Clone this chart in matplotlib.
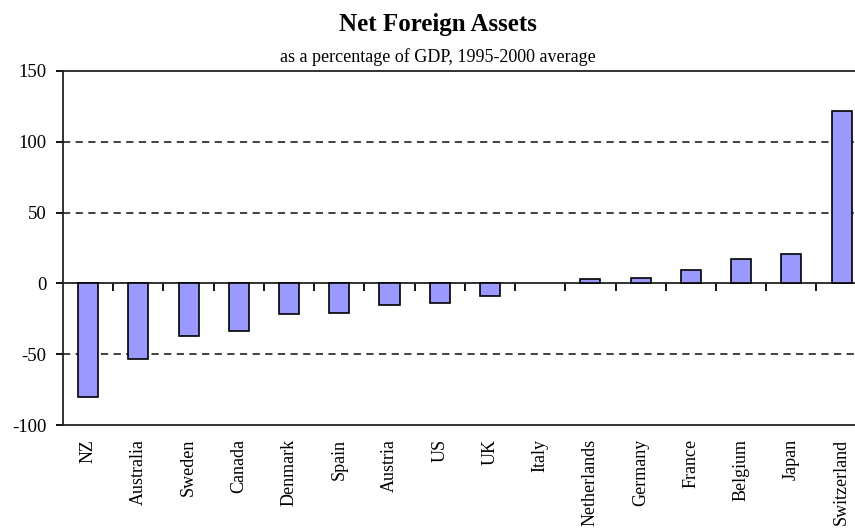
import numpy as np
from matplotlib import pyplot as plt

plt.rcParams["font.family"] = "Liberation Serif"

countries = ["NZ", "Australia", "Sweden", "Canada", "Denmark", "Spain", "Austria",
             "US", "UK", "Italy", "Netherlands", "Germany", "France", "Belgium",
             "Japan", "Switzerland"]
nfa = [-80.0, -53.5, -37.0, -33.5, -21.7, -20.8, -15.3, -14.0, -9.0, 0.0,
       3.0, 4.0, 9.4, 17.0, 20.7, 122.0]
yticks = [-100, -50, 0, 50, 100, 150]

fig = plt.figure(figsize=(8.55, 5.31), dpi=100)
# plot area runs a bit past the right edge, as in the reference
ax = fig.add_axes([0.0737, 0.1996, 0.94, 0.6667])

x = np.arange(len(countries))
for gy in [-50, 50, 100]:
    ax.axhline(gy, color="#333333", lw=1.3, ls=(0, (4, 3)), zorder=1)

# no outline for a zero-height bar (Italy)
edge_w = [1.2 if v != 0 else 0 for v in nfa]
ax.bar(x, nfa, width=0.4, color="#9999FF", edgecolor="black", lw=edge_w, zorder=3)

ax.set_xlim(-0.5, len(countries) - 0.5)
ax.set_ylim(-100, 150)
ax.set_yticks(yticks)
ax.set_yticklabels([str(t) for t in yticks], fontsize=13.5)
ax.tick_params(axis="y", direction="out", length=5, width=1.3, pad=7)

ax.set_xticks(x)
ax.set_xticklabels(countries, rotation=90, fontsize=13, va="top")
ax.tick_params(axis="x", length=0, pad=10)

for s in ["left", "top", "bottom"]:
    ax.spines[s].set_linewidth(1.3)
    ax.spines[s].set_color("#222222")
ax.spines["right"].set_visible(False)

# zero line with the category separator ticks
zax = ax.secondary_xaxis(0.4)
zax.set_xticks(x[:-1] + 0.5)
zax.set_xticklabels([])
zax.tick_params(direction="out", length=6, width=1.3)
zax.spines["bottom"].set_linewidth(1.3)
zax.spines["bottom"].set_color("#222222")

fig.text(0.512, 0.953, "Net Foreign Assets", ha="center", va="center",
         fontsize=18, fontweight="bold")
fig.text(0.512, 0.893, "as a percentage of GDP, 1995-2000 average", ha="center",
         va="center", fontsize=13)

fig.savefig("out.png", dpi=100)
